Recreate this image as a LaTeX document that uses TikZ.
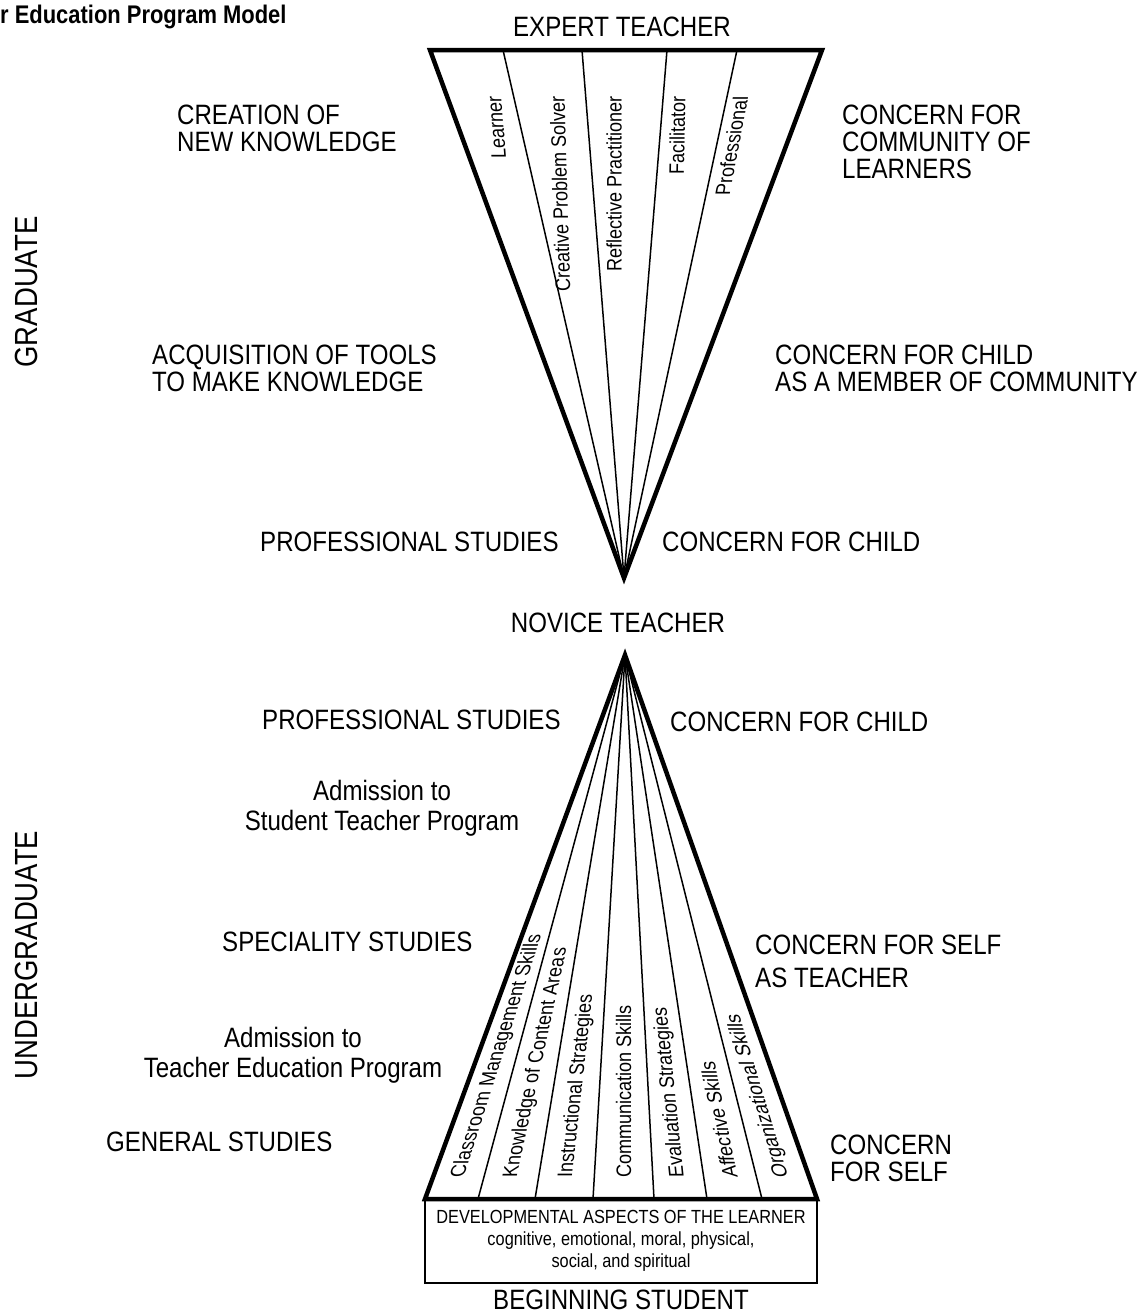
\documentclass[tikz,border=0pt]{standalone}
\usepackage{fontspec}
\setmainfont{Liberation Sans}[FakeStretch=0.86]
\usetikzlibrary{positioning}
\tikzstyle{rim} = [draw, line width=4.5pt]
\tikzstyle{divider} = [draw, line width=1.5pt]
\tikzstyle{caps} = [font=\fontsize{28}{27}\selectfont, inner sep=0, align=left, anchor=north west]
\tikzstyle{note} = [font=\fontsize{28}{30}\selectfont, inner sep=0, align=center, anchor=north]
\tikzstyle{phase} = [font=\fontsize{32}{32}\selectfont, inner sep=0, rotate=90]
\tikzstyle{role} = [font=\fontsize{21}{21}\selectfont, inner sep=0]
\tikzstyle{box} = [rectangle, draw, line width=2pt, outer sep=0, inner sep=0, align=center, font=\fontsize{19}{22}\selectfont]

\begin{document}
\begin{tikzpicture}[x=1pt, y=1pt]
    \useasboundingbox (0,0) rectangle (1145,-1315);

    \node [caps, font=\bfseries\fontsize{25.5}{25}\selectfont] (title) at (0,-5) {r Education Program Model};

    \coordinate (top_left) at (430,-50);
    \coordinate (top_right) at (822,-50);
    \coordinate (top_tip) at (624,-578);
    \coordinate (top_a) at (503,-50);
    \coordinate (top_b) at (582,-50);
    \coordinate (top_c) at (667,-50);
    \coordinate (top_d) at (737,-50);

    \coordinate (base_left) at (425,-1199);
    \coordinate (base_right) at (817,-1199);
    \coordinate (base_tip) at (625,-655);
    \coordinate (base_a) at (478,-1199);
    \coordinate (base_b) at (535,-1199);
    \coordinate (base_c) at (593,-1199);
    \coordinate (base_d) at (654,-1199);
    \coordinate (base_e) at (707,-1199);
    \coordinate (base_f) at (762,-1199);

    \path [divider] (top_a) -- (top_tip);
    \path [divider] (top_b) -- (top_tip);
    \path [divider] (top_c) -- (top_tip);
    \path [divider] (top_d) -- (top_tip);
    \path [rim] (top_left) -- (top_right) -- (top_tip) -- cycle;

    \node [box, minimum width=392pt, minimum height=84pt, anchor=north] (aspects) at (621,-1199)
        {DEVELOPMENTAL ASPECTS OF THE LEARNER\\cognitive, emotional, moral, physical,\\social, and spiritual};

    \path [divider] (base_a) -- (base_tip);
    \path [divider] (base_b) -- (base_tip);
    \path [divider] (base_c) -- (base_tip);
    \path [divider] (base_d) -- (base_tip);
    \path [divider] (base_e) -- (base_tip);
    \path [divider] (base_f) -- (base_tip);
    \path [rim] (base_left) -- (base_right) -- (base_tip) -- cycle;

    \node [role, anchor=east, xslant=-0.08, rotate=90] (learner) at (494,-96) {Learner};
    \node [role, anchor=east, xslant=-0.03, rotate=90] (solver) at (557,-96) {Creative Problem Solver};
    \node [role, anchor=east, rotate=90] (practitioner) at (614,-96) {Reflective Practitioner};
    \node [role, anchor=east, xslant=0.02, rotate=90] (facilitator) at (678,-96) {Facilitator};
    \node [role, anchor=east, xslant=0.19, rotate=90] (professional) at (741,-96) {Professional};

    \node [role, anchor=west, xslant=0.319, rotate=90] (classroom) at (458.2,-1178) {Classroom Management Skills};
    \node [role, anchor=west, xslant=0.218, rotate=90] (knowledge) at (511.1,-1178) {Knowledge of Content Areas};
    \node [role, anchor=west, xslant=0.112, rotate=90] (instructional) at (566.4,-1178) {Instructional Strategies};
    \node [role, anchor=west, rotate=90] (communication) at (623.6,-1178) {Communication Skills};
    \node [role, anchor=west, xslant=-0.102, rotate=90] (evaluation) at (678.4,-1178) {Evaluation Strategies};
    \node [role, anchor=west, xslant=-0.201, rotate=90] (affective) at (730.3,-1178) {Affective Skills};
    \node [role, anchor=west, xslant=-0.302, rotate=90] (organizational) at (783.1,-1178) {Organizational Skills};

    \node [caps, anchor=north] (expert) at (622,-17) {EXPERT TEACHER};
    \node [caps] (creation) at (177,-105) {CREATION OF\\NEW KNOWLEDGE};
    \node [caps] (community) at (842,-105) {CONCERN FOR\\COMMUNITY OF\\LEARNERS};
    \node [phase] (graduate) at (26,-292) {GRADUATE};
    \node [caps] (tools) at (152,-345) {ACQUISITION OF TOOLS\\TO MAKE KNOWLEDGE};
    \node [caps] (member) at (775,-345) {CONCERN FOR CHILD\\AS A MEMBER OF COMMUNITY};
    \node [caps] (prof_upper) at (260,-532) {PROFESSIONAL STUDIES};
    \node [caps] (child_upper) at (662,-532) {CONCERN FOR CHILD};
    \node [caps, anchor=north] (novice) at (618,-613) {NOVICE TEACHER};
    \node [caps] (prof_lower) at (262,-710) {PROFESSIONAL STUDIES};
    \node [caps] (child_lower) at (670,-712) {CONCERN FOR CHILD};
    \node [note] (student_teacher) at (382,-780) {Admission to\\Student Teacher Program};
    \node [phase] (undergraduate) at (26,-955) {UNDERGRADUATE};
    \node [caps] (speciality) at (222,-932) {SPECIALITY STUDIES};
    \node [caps] (self_teacher) at (755,-935) {CONCERN FOR SELF\\[6pt]AS TEACHER};
    \node [note] (teacher_ed) at (293,-1027) {Admission to\\Teacher Education Program};
    \node [caps] (general) at (106,-1132) {GENERAL STUDIES};
    \node [caps] (self) at (830,-1135) {CONCERN\\FOR SELF};
    \node [caps, below=7pt of aspects] (beginning) {BEGINNING STUDENT};

\end{tikzpicture}
\end{document}
